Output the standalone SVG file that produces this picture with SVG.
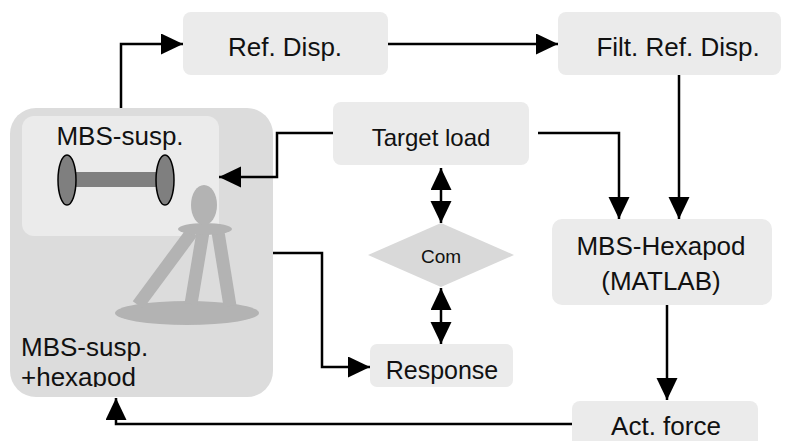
<svg xmlns="http://www.w3.org/2000/svg" width="788" height="441" viewBox="0 0 788 441">
  <defs>
    <marker id="arr" markerUnits="userSpaceOnUse" markerWidth="22" markerHeight="22" refX="22" refY="10.5" orient="auto-start-reverse">
      <path d="M0,0 L22,10.5 L0,21 z" fill="#000"/>
    </marker>
    <clipPath id="bigclip">
      <rect x="10" y="108" width="263" height="279"/>
    </clipPath>
  </defs>
  <style>
    .box { fill: #ebebeb; }
    .lbl { font-family: "Liberation Sans", Arial, sans-serif; font-size: 26px; fill: #111; text-anchor: middle; }
    .con { fill: none; stroke: #000; stroke-width: 2.5; }
    .hex { fill: #b3b3b3; }
    .leg { stroke: #b3b3b3; stroke-width: 13; }
  </style>
  <rect width="788" height="441" fill="#fff"/>

  <g id="node-mbs-hexapod-system">
    <rect x="10" y="108" width="263" height="289" rx="26" fill="#dcdcdc"/>
    <g id="node-mbs-susp">
      <rect x="22" y="116" width="197" height="120" rx="12" fill="#ebebeb"/>
      <text class="lbl" x="120" y="145">MBS-susp.</text>
      <rect x="67" y="172" width="98" height="15" fill="#7f7f7f"/>
      <ellipse cx="67" cy="180" rx="9" ry="25" fill="#7f7f7f" stroke="#000" stroke-width="1.5"/>
      <ellipse cx="165" cy="180" rx="9" ry="25" fill="#7f7f7f" stroke="#000" stroke-width="1.5"/>
    </g>
    <g id="hexapod-icon">
      <ellipse class="hex" cx="187" cy="313" rx="72" ry="12"/>
      <line class="leg" x1="192" y1="232" x2="138" y2="305"/>
      <line class="leg" x1="203" y1="232" x2="191" y2="304"/>
      <line class="leg" x1="218" y1="232" x2="230" y2="306"/>
      <ellipse class="hex" cx="205" cy="229" rx="27" ry="6"/>
      <ellipse class="hex" cx="204" cy="205" rx="13" ry="20"/>
    </g>
    <g clip-path="url(#bigclip)">
      <text class="lbl" x="21" y="356" style="text-anchor:start">MBS-susp.</text>
      <text class="lbl" x="21" y="386" style="text-anchor:start">+hexapod</text>
    </g>
  </g>

  <g id="node-ref-disp">
    <rect class="box" x="183" y="12" width="205" height="63" rx="8"/>
    <text class="lbl" x="285" y="56">Ref. Disp.</text>
  </g>

  <g id="node-filt-ref-disp">
    <rect class="box" x="558" y="12" width="223" height="63" rx="8"/>
    <text class="lbl" x="678" y="56">Filt. Ref. Disp.</text>
  </g>

  <g id="node-target-load">
    <rect class="box" x="333" y="102" width="196" height="63" rx="8"/>
    <text class="lbl" x="431" y="146" style="font-size:24px">Target load</text>
  </g>

  <g id="node-com">
    <polygon points="368,255 441,223 514,255 441,287" fill="#d9d9d9"/>
    <text class="lbl" x="441" y="263" style="font-size:19px">Com</text>
  </g>

  <g id="node-response">
    <rect class="box" x="370" y="344" width="143" height="43" rx="7"/>
    <text class="lbl" x="442" y="379" style="font-size:25px">Response</text>
  </g>

  <g id="node-mbs-hexapod-matlab">
    <rect class="box" x="552" y="219" width="220" height="86" rx="10"/>
    <text class="lbl" x="661" y="255">MBS-Hexapod</text>
    <text class="lbl" x="661" y="290">(MATLAB)</text>
  </g>

  <g id="node-act-force">
    <rect class="box" x="572" y="401" width="186" height="50" rx="8"/>
    <text class="lbl" x="666" y="435">Act. force</text>
  </g>

  <g id="connectors">
    <path class="con" d="M121,108 V44 H183" marker-end="url(#arr)"/>
    <path class="con" d="M388,44 H558" marker-end="url(#arr)"/>
    <path class="con" d="M679,75 V219" marker-end="url(#arr)"/>
    <path class="con" d="M538,133 H619 V219" marker-end="url(#arr)"/>
    <path class="con" d="M333,133 H277 V177 H219" marker-end="url(#arr)"/>
    <path class="con" d="M273,253 H322 V367 H370" marker-end="url(#arr)"/>
    <path class="con" d="M441,168 V223" marker-start="url(#arr)" marker-end="url(#arr)"/>
    <path class="con" d="M441,288 V344" marker-start="url(#arr)" marker-end="url(#arr)"/>
    <path class="con" d="M667,305 V400" marker-end="url(#arr)"/>
    <path class="con" d="M572,424 H116 V398" marker-end="url(#arr)"/>
  </g>
</svg>
